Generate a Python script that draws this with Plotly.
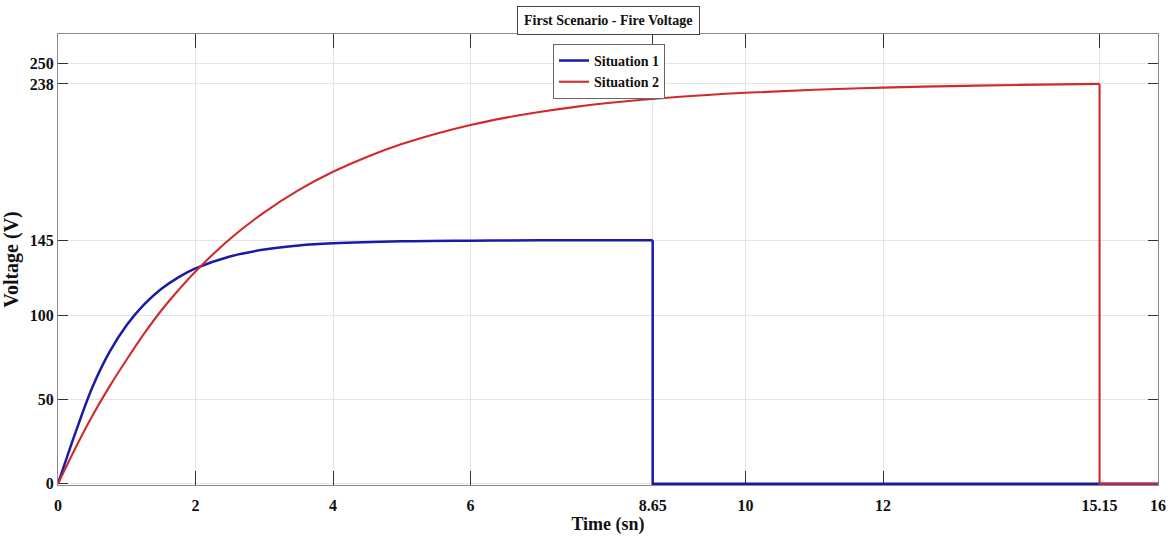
import plotly.graph_objects as go

# Situation 1: charging curve (time in s, voltage in V) up to the cut-off
t_s1 = [0, 0.25, 0.5, 0.75, 1.0, 1.25, 1.5, 1.75, 2.0, 2.5, 3.0, 3.5, 4.0, 5.0, 6.0, 7.0, 8.65]
v_s1 = [0, 30.0, 57.5, 78.5, 94.5, 106.6, 115.9, 122.9, 128.2, 135.3, 139.4, 141.8, 143.1, 144.3, 144.7, 144.9, 145]

# Situation 2: charging curve up to the cut-off
t_s2 = [0, 0.25, 0.5, 0.75, 1.0, 1.25, 1.5, 1.75, 2.0, 2.5, 3.0, 3.5, 4.0, 4.5, 5.0, 5.5, 6.0,
        6.5, 7.0, 7.5, 8.0, 9.0, 10.0, 11.0, 12.0, 13.0, 14.0, 15.15]
v_s2 = [0, 21.0, 40.5, 58.0, 74.0, 89.2, 103.0, 115.2, 126.4, 145.7, 161.6, 174.8, 185.7, 194.7, 202.2, 208.4, 213.6,
        217.8, 221.3, 224.2, 226.6, 230.2, 232.7, 234.5, 235.8, 236.7, 237.4, 238]

T_END = 16
Y_RANGE = [-0.7, 267.7]

x_ticks = [0, 2, 4, 6, 8.65, 10, 12, 15.15, 16]
x_tick_text = ["0", "2", "4", "6", "8.65", "10", "12", "15.15", "16"]
y_ticks = [0, 50, 100, 145, 238, 250]
y_tick_text = ["0", "50", "100", "145", "238", "250"]

BLUE = "#1a1aa8"
RED = "#cf2a2e"
SERIF = "Liberation Serif"

fig = go.Figure()

def add_series(t, v, name, color, width):
    # smooth rising part
    fig.add_trace(go.Scatter(
        x=t, y=v, mode="lines", name=name, legendgroup=name,
        line=dict(color=color, width=width, shape="spline", smoothing=1.0),
    ))
    # cut-off: vertical drop to zero, then flat until the end of the run
    fig.add_trace(go.Scatter(
        x=[t[-1], t[-1], T_END], y=[v[-1], 0, 0], mode="lines",
        legendgroup=name, showlegend=False,
        line=dict(color=color, width=width),
    ))

add_series(t_s1, v_s1, "Situation 1", BLUE, 2.5)
add_series(t_s2, v_s2, "Situation 2", RED, 2.1)

axis_common = dict(
    showgrid=True, gridcolor="#e4e4e4", gridwidth=1,
    showline=True, linecolor="#8a8a8a", linewidth=1.3,
    mirror="ticks", ticks="inside", tickcolor="#333333", tickwidth=1,
    tickfont=dict(family=SERIF, size=16, color="#111111", weight="bold"),
    zeroline=False, layer="below traces", automargin=False,
)

fig.update_xaxes(
    range=[0, T_END], tickmode="array", tickvals=x_ticks, ticktext=x_tick_text,
    ticklen=14, ticklabelstandoff=6,
    title=dict(text="Time (sn)", font=dict(family=SERIF, size=18, color="#111111", weight="bold"),
               standoff=4),
    **axis_common,
)
fig.update_yaxes(
    range=Y_RANGE, tickmode="array", tickvals=y_ticks, ticktext=y_tick_text,
    ticklen=10,
    title=dict(text="Voltage (V)", font=dict(family=SERIF, size=20, color="#111111", weight="bold"),
               standoff=6),
    **axis_common,
)

fig.add_annotation(
    text="First Scenario - Fire Voltage", xref="paper", yref="paper",
    x=0.5, y=1.03, xanchor="center", yanchor="middle", showarrow=False,
    font=dict(family=SERIF, size=14, color="#111111", weight="bold"),
    bgcolor="white", bordercolor="#444444", borderwidth=1, borderpad=6,
)

fig.update_layout(
    width=1175, height=542,
    margin=dict(l=58, r=17, t=34, b=57),
    paper_bgcolor="white", plot_bgcolor="white",
    legend=dict(
        x=0.45, y=0.978, xanchor="left", yanchor="top",
        bgcolor="white", bordercolor="#666666", borderwidth=1,
        font=dict(family=SERIF, size=14, color="#111111", weight="bold"),
        tracegroupgap=0, itemwidth=30,
    ),
)

fig.write_html("out.html")
